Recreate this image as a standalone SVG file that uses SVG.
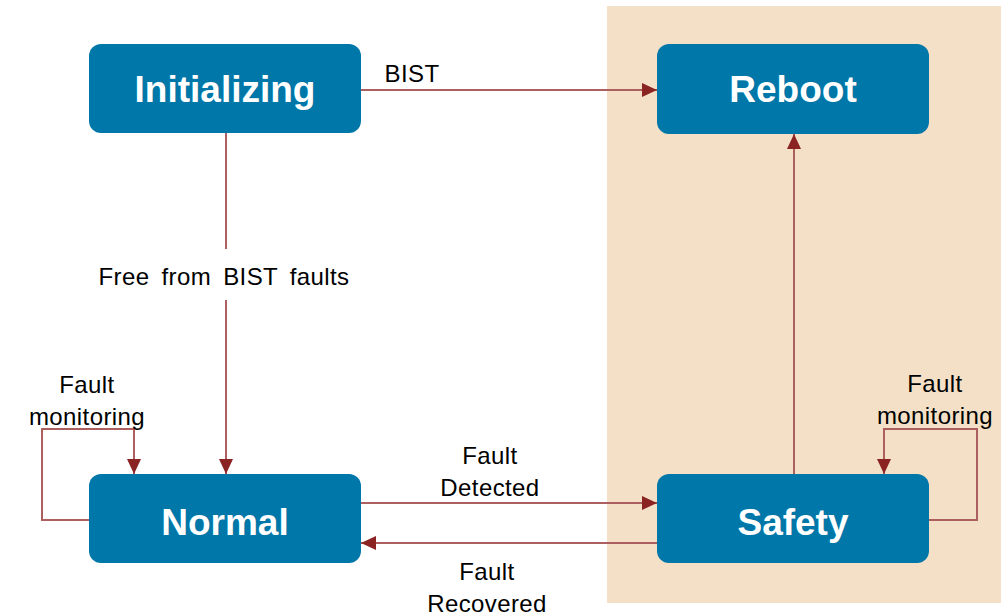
<svg xmlns="http://www.w3.org/2000/svg" width="1005" height="615" viewBox="0 0 1005 615">
  <style>
    .state rect { fill: #0077A9; }
    .state text { fill: #FFFFFF; font-family: "Liberation Sans", Arial, sans-serif; font-weight: bold; font-size: 37px; text-anchor: middle; }
    .edge { fill: none; stroke: #AC5F5F; stroke-width: 2; }
    .lbl { fill: #000000; font-family: "Liberation Sans", Arial, sans-serif; font-size: 24px; text-anchor: middle; letter-spacing: 0.4px; }
  </style>
  <defs>
    <marker id="arrow" viewBox="0 0 15 14" refX="15" refY="7" markerWidth="15" markerHeight="14" markerUnits="userSpaceOnUse" orient="auto">
      <path d="M0,0 L15,7 L0,14 Z" fill="#8B2323"/>
    </marker>
  </defs>

  <rect width="1005" height="615" fill="#FFFFFF"/>

  <!-- safety domain background -->
  <rect id="safety-zone" x="607" y="6" width="394" height="597" fill="#F4E0C7"/>

  <g id="connectors">
    <!-- Initializing -> Reboot -->
    <path class="edge" d="M361,90 H657" marker-end="url(#arrow)"/>
    <text class="lbl" x="412" y="82">BIST</text>

    <!-- Initializing -> Normal (broken around its label) -->
    <path class="edge" d="M226,133 V249"/>
    <path class="edge" d="M226,300 V474" marker-end="url(#arrow)"/>
    <text class="lbl" x="224" y="285" word-spacing="5">Free from BIST faults</text>

    <!-- Normal -> Safety -->
    <path class="edge" d="M361,503 H657" marker-end="url(#arrow)"/>
    <text class="lbl" x="490" y="464">Fault</text>
    <text class="lbl" x="490" y="496">Detected</text>

    <!-- Safety -> Normal -->
    <path class="edge" d="M657,543 H361" marker-end="url(#arrow)"/>
    <text class="lbl" x="487" y="580">Fault</text>
    <text class="lbl" x="487" y="612">Recovered</text>

    <!-- Safety -> Reboot -->
    <path class="edge" d="M794,474 V134" marker-end="url(#arrow)"/>

    <!-- Normal self loop -->
    <path class="edge" d="M89,520 H42 V429 H134 V474" marker-end="url(#arrow)"/>
    <text class="lbl" x="87" y="393">Fault</text>
    <text class="lbl" x="87" y="425">monitoring</text>

    <!-- Safety self loop -->
    <path class="edge" d="M929,520 H977 V429 H884 V474" marker-end="url(#arrow)"/>
    <text class="lbl" x="935" y="392">Fault</text>
    <text class="lbl" x="935" y="424">monitoring</text>
  </g>

  <g id="node-initializing" class="state">
    <rect x="89" y="44" width="272" height="89" rx="12"/>
    <text x="225" y="102">Initializing</text>
  </g>

  <g id="node-reboot" class="state">
    <rect x="657" y="44" width="272" height="90" rx="12"/>
    <text x="793" y="102">Reboot</text>
  </g>

  <g id="node-normal" class="state">
    <rect x="89" y="474" width="272" height="89" rx="12"/>
    <text x="225" y="535">Normal</text>
  </g>

  <g id="node-safety" class="state">
    <rect x="657" y="474" width="272" height="89" rx="12"/>
    <text x="793" y="535">Safety</text>
  </g>
</svg>
